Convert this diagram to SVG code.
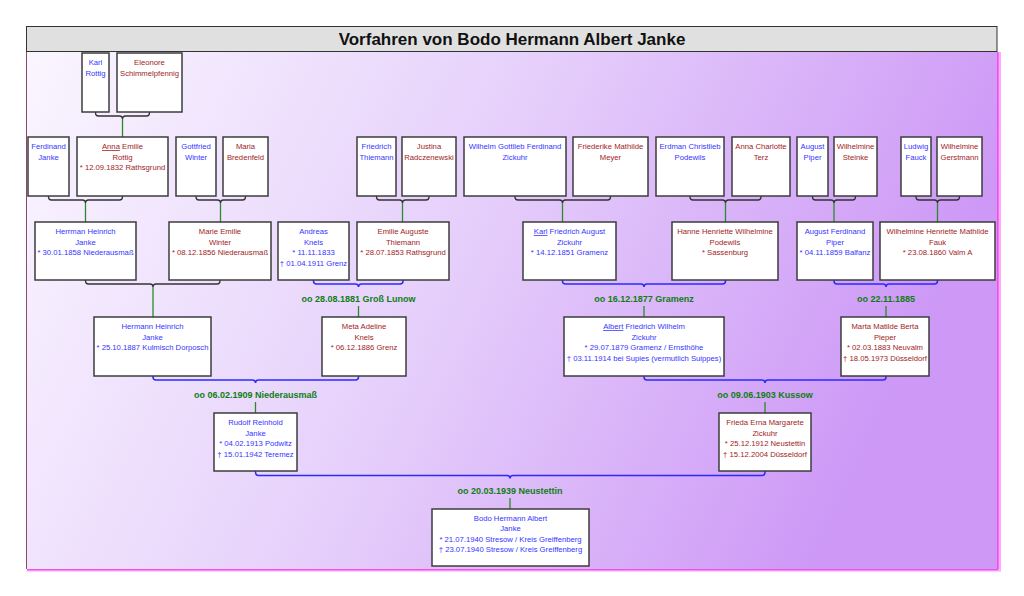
<svg xmlns="http://www.w3.org/2000/svg" width="1024" height="596" viewBox="0 0 1024 596">
<defs>
<linearGradient id="bg" x1="0" y1="0" x2="1" y2="0.25">
<stop offset="0" stop-color="#faf6ff"/>
<stop offset="0.5" stop-color="#e6d0fb"/>
<stop offset="1" stop-color="#cd98f6"/>
</linearGradient>
<style>
.box{fill:#ffffff;stroke:#3c3c3c;stroke-width:1.5}
text{font-family:"Liberation Sans",Arial,sans-serif;font-size:7.7px;text-anchor:middle}
.m{fill:#3535ff}
.f{fill:#a01c24}
.br{fill:none;stroke:#333333;stroke-width:1.3}
.bb{fill:none;stroke:#2a2aff;stroke-width:1.5}
.gl{fill:none;stroke:#2a8a2a;stroke-width:1.3}
.mt{fill:#0f7d14;font-weight:bold;font-size:9px}
.u{text-decoration:underline}
</style>
</defs>
<g id="frame">
<rect x="26" y="51" width="971" height="518" fill="url(#bg)"/>
<line x1="26.5" y1="51" x2="26.5" y2="569" stroke="#8a4a6a" stroke-width="1"/>
<rect x="997" y="52" width="4" height="519" fill="#ffa8ff"/>
<rect x="997" y="52" width="1.6" height="518" fill="#f050e8"/>
<rect x="27" y="569" width="974" height="2.5" fill="#ffa8ff"/>
<rect x="27" y="569" width="971" height="1.3" fill="#f050e8"/>
</g>
<g id="title">
<rect x="26.5" y="26.5" width="970.5" height="25" fill="#e0e0e0" stroke="#333" stroke-width="1"/>
<text x="512" y="45" style="font-size:17px;font-weight:bold;fill:#111">Vorfahren von Bodo Hermann Albert Janke</text>
</g>
<g id="connectors">
<path class="br" d="M95.5,112 V113 Q95.5,116 98.5,116 H119.5 Q122.5,116 122.5,119 Q122.5,116 125.5,116 H146.5 Q149.5,116 149.5,113 V112"/>
<path class="gl" d="M122.5,119 V137"/>
<path class="br" d="M48.5,196 V197 Q48.5,200 51.5,200 H82.5 Q85.5,200 85.5,203 Q85.5,200 88.5,200 H119.5 Q122.5,200 122.5,197 V196"/>
<path class="gl" d="M85.5,203 V222"/>
<path class="br" d="M196,196 V197 Q196,200 199,200 H217.5 Q220.5,200 220.5,203 Q220.5,200 223.5,200 H242.5 Q245.5,200 245.5,197 V196"/>
<path class="gl" d="M220.5,203 V222"/>
<path class="br" d="M376.5,196 V197 Q376.5,200 379.5,200 H399.5 Q402.5,200 402.5,203 Q402.5,200 405.5,200 H426 Q429,200 429,197 V196"/>
<path class="gl" d="M402.5,203 V222"/>
<path class="br" d="M515,196 V197 Q515,200 518,200 H559.5 Q562.5,200 562.5,203 Q562.5,200 565.5,200 H607.5 Q610.5,200 610.5,197 V196"/>
<path class="gl" d="M562.5,203 V222"/>
<path class="br" d="M690,196 V197 Q690,200 693,200 H722.5 Q725.5,200 725.5,203 Q725.5,200 728.5,200 H758 Q761,200 761,197 V196"/>
<path class="gl" d="M725.5,203 V222"/>
<path class="br" d="M812.5,196 V197 Q812.5,200 815.5,200 H831 Q834,200 834,203 Q834,200 837,200 H852.5 Q855.5,200 855.5,197 V196"/>
<path class="gl" d="M834,203 V222"/>
<path class="br" d="M916,196 V197 Q916,200 919,200 H934.5 Q937.5,200 937.5,203 Q937.5,200 940.5,200 H956.5 Q959.5,200 959.5,197 V196"/>
<path class="gl" d="M937.5,203 V222"/>
<path class="br" d="M85.5,280 V281 Q85.5,284 88.5,284 H150 Q153,284 153,287 Q153,284 156,284 H217 Q220,284 220,281 V280"/>
<path class="gl" d="M153,287 V317"/>
<path class="bb" d="M313.5,280 V281 Q313.5,284 316.5,284 H355.5 Q358.5,284 358.5,287 Q358.5,284 361.5,284 H400 Q403,284 403,281 V280"/>
<text class="mt" x="358.5" y="302">oo 28.08.1881 Groß Lunow</text>
<path class="gl" d="M358.5,306 V317"/>
<path class="bb" d="M562.5,280 V281 Q562.5,284 565.5,284 H641 Q644,284 644,287 Q644,284 647,284 H722.5 Q725.5,284 725.5,281 V280"/>
<text class="mt" x="644" y="302">oo 16.12.1877 Gramenz</text>
<path class="gl" d="M644,306 V317"/>
<path class="bb" d="M834,280 V281 Q834,284 837,284 H883 Q886,284 886,287 Q886,284 889,284 H934.5 Q937.5,284 937.5,281 V280"/>
<text class="mt" x="886" y="302">oo 22.11.1885</text>
<path class="gl" d="M886,306 V317"/>
<path class="bb" d="M153,376 V377 Q153,380 156,380 H252.5 Q255.5,380 255.5,383 Q255.5,380 258.5,380 H355.5 Q358.5,380 358.5,377 V376"/>
<text class="mt" x="255.5" y="398">oo 06.02.1909 Niederausmaß</text>
<path class="gl" d="M255.5,402 V413"/>
<path class="bb" d="M644,376 V377 Q644,380 647,380 H762 Q765,380 765,383 Q765,380 768,380 H883 Q886,380 886,377 V376"/>
<text class="mt" x="765" y="398">oo 09.06.1903 Kussow</text>
<path class="gl" d="M765,402 V413"/>
<path class="bb" d="M255.5,471 V472 Q255.5,475.5 258.5,475.5 H507 Q510,475.5 510,478.5 Q510,475.5 513,475.5 H762 Q765,475.5 765,472 V471"/>
<text class="mt" x="510" y="494">oo 20.03.1939 Neustettin</text>
<path class="gl" d="M510,498 V509"/>
</g>
<g id="n-karl-rottig"><rect class="box" x="82" y="53" width="27" height="59"/><text class="m"><tspan x="95.5" y="65">Karl</tspan><tspan x="95.5" y="75.5">Rottig</tspan></text></g>
<g id="n-eleonore"><rect class="box" x="117" y="53" width="65" height="59"/><text class="f"><tspan x="149.5" y="65">Eleonore</tspan><tspan x="149.5" y="75.5">Schimmelpfennig</tspan></text></g>
<g id="n-ferdinand"><rect class="box" x="28" y="137" width="41" height="59"/><text class="m"><tspan x="48.5" y="149">Ferdinand</tspan><tspan x="48.5" y="159.5">Janke</tspan></text></g>
<g id="n-anna-emilie"><rect class="box" x="77" y="137" width="91" height="59"/><text class="f"><tspan x="122.5" y="149"><tspan class="u">Anna</tspan> Emilie</tspan><tspan x="122.5" y="159.5">Rottig</tspan><tspan x="122.5" y="170">* 12.09.1832 Rathsgrund</tspan></text></g>
<g id="n-gottfried"><rect class="box" x="176" y="137" width="40" height="59"/><text class="m"><tspan x="196" y="149">Gottfried</tspan><tspan x="196" y="159.5">Winter</tspan></text></g>
<g id="n-maria"><rect class="box" x="223" y="137" width="45" height="59"/><text class="f"><tspan x="245.5" y="149">Maria</tspan><tspan x="245.5" y="159.5">Bredenfeld</tspan></text></g>
<g id="n-friedrich"><rect class="box" x="357" y="137" width="39" height="59"/><text class="m"><tspan x="376.5" y="149">Friedrich</tspan><tspan x="376.5" y="159.5">Thiemann</tspan></text></g>
<g id="n-justina"><rect class="box" x="402" y="137" width="54" height="59"/><text class="f"><tspan x="429" y="149">Justina</tspan><tspan x="429" y="159.5">Radczenewski</tspan></text></g>
<g id="n-wilhelm"><rect class="box" x="464" y="137" width="102" height="59"/><text class="m"><tspan x="515" y="149">Wilhelm Gottlieb Ferdinand</tspan><tspan x="515" y="159.5">Zickuhr</tspan></text></g>
<g id="n-friederike"><rect class="box" x="573" y="137" width="75" height="59"/><text class="f"><tspan x="610.5" y="149">Friederike Mathilde</tspan><tspan x="610.5" y="159.5">Meyer</tspan></text></g>
<g id="n-erdman"><rect class="box" x="656" y="137" width="68" height="59"/><text class="m"><tspan x="690" y="149">Erdman Christlieb</tspan><tspan x="690" y="159.5">Podewils</tspan></text></g>
<g id="n-anna-charlotte"><rect class="box" x="732" y="137" width="58" height="59"/><text class="f"><tspan x="761" y="149">Anna Charlotte</tspan><tspan x="761" y="159.5">Terz</tspan></text></g>
<g id="n-august"><rect class="box" x="797" y="137" width="31" height="59"/><text class="m"><tspan x="812.5" y="149">August</tspan><tspan x="812.5" y="159.5">Piper</tspan></text></g>
<g id="n-wilhelmine-steinke"><rect class="box" x="834" y="137" width="43" height="59"/><text class="f"><tspan x="855.5" y="149">Wilhelmine</tspan><tspan x="855.5" y="159.5">Steinke</tspan></text></g>
<g id="n-ludwig"><rect class="box" x="901" y="137" width="30" height="59"/><text class="m"><tspan x="916" y="149">Ludwig</tspan><tspan x="916" y="159.5">Fauck</tspan></text></g>
<g id="n-wilhelmine-gerstmann"><rect class="box" x="937" y="137" width="45" height="59"/><text class="f"><tspan x="959.5" y="149">Wilhelmine</tspan><tspan x="959.5" y="159.5">Gerstmann</tspan></text></g>
<g id="n-herrman"><rect class="box" x="35" y="222" width="101" height="58"/><text class="m"><tspan x="85.5" y="234">Herrman Heinrich</tspan><tspan x="85.5" y="244.5">Janke</tspan><tspan x="85.5" y="255">* 30.01.1858 Niederausmaß</tspan></text></g>
<g id="n-marie"><rect class="box" x="169" y="222" width="102" height="58"/><text class="f"><tspan x="220" y="234">Marie Emilie</tspan><tspan x="220" y="244.5">Winter</tspan><tspan x="220" y="255">* 08.12.1856 Niederausmaß</tspan></text></g>
<g id="n-andreas"><rect class="box" x="278" y="222" width="71" height="58"/><text class="m"><tspan x="313.5" y="234">Andreas</tspan><tspan x="313.5" y="244.5">Knels</tspan><tspan x="313.5" y="255">* 11.11.1833</tspan><tspan x="313.5" y="265.5">† 01.04.1911 Grenz</tspan></text></g>
<g id="n-emilie"><rect class="box" x="357" y="222" width="92" height="58"/><text class="f"><tspan x="403" y="234">Emilie Auguste</tspan><tspan x="403" y="244.5">Thiemann</tspan><tspan x="403" y="255">* 28.07.1853 Rathsgrund</tspan></text></g>
<g id="n-karl-friedrich"><rect class="box" x="523" y="222" width="93" height="58"/><text class="m"><tspan x="569.5" y="234"><tspan class="u">Karl</tspan> Friedrich August</tspan><tspan x="569.5" y="244.5">Zickuhr</tspan><tspan x="569.5" y="255">* 14.12.1851 Gramenz</tspan></text></g>
<g id="n-hanne"><rect class="box" x="672" y="222" width="106" height="58"/><text class="f"><tspan x="725" y="234">Hanne Henriette Wilhelmine</tspan><tspan x="725" y="244.5">Podewils</tspan><tspan x="725" y="255">* Sassenburg</tspan></text></g>
<g id="n-august-ferdinand"><rect class="box" x="797" y="222" width="76" height="58"/><text class="m"><tspan x="835" y="234">August Ferdinand</tspan><tspan x="835" y="244.5">Piper</tspan><tspan x="835" y="255">* 04.11.1859 Balfanz</tspan></text></g>
<g id="n-wilhelmine-henriette"><rect class="box" x="880" y="222" width="115" height="58"/><text class="f"><tspan x="937.5" y="234">Wilhelmine Henriette Mathilde</tspan><tspan x="937.5" y="244.5">Fauk</tspan><tspan x="937.5" y="255">* 23.08.1860 Valm A</tspan></text></g>
<g id="n-hermann"><rect class="box" x="94" y="317" width="117" height="59"/><text class="m"><tspan x="152.5" y="329">Hermann Heinrich</tspan><tspan x="152.5" y="339.5">Janke</tspan><tspan x="152.5" y="350">* 25.10.1887 Kulmisch Dorposch</tspan></text></g>
<g id="n-meta"><rect class="box" x="322" y="317" width="84" height="59"/><text class="f"><tspan x="364" y="329">Meta Adeline</tspan><tspan x="364" y="339.5">Knels</tspan><tspan x="364" y="350">* 06.12.1886 Grenz</tspan></text></g>
<g id="n-albert"><rect class="box" x="564" y="317" width="160" height="59"/><text class="m"><tspan x="644" y="329"><tspan class="u">Albert</tspan> Friedrich Wilhelm</tspan><tspan x="644" y="339.5">Zickuhr</tspan><tspan x="644" y="350">* 29.07.1879 Gramenz / Ernsthöhe</tspan><tspan x="644" y="360.5">† 03.11.1914 bei Supies (vermutlich Suippes)</tspan></text></g>
<g id="n-marta"><rect class="box" x="841" y="317" width="88" height="59"/><text class="f"><tspan x="885" y="329">Marta Matilde Berta</tspan><tspan x="885" y="339.5">Pieper</tspan><tspan x="885" y="350">* 02.03.1883 Neuvalm</tspan><tspan x="885" y="360.5">† 18.05.1973 Düsseldorf</tspan></text></g>
<g id="n-rudolf"><rect class="box" x="214" y="413" width="83" height="58"/><text class="m"><tspan x="255.5" y="425">Rudolf Reinhold</tspan><tspan x="255.5" y="435.5">Janke</tspan><tspan x="255.5" y="446">* 04.02.1913 Podwitz</tspan><tspan x="255.5" y="456.5">† 15.01.1942 Teremez</tspan></text></g>
<g id="n-frieda"><rect class="box" x="719" y="413" width="92" height="58"/><text class="f"><tspan x="765" y="425">Frieda Erna Margarete</tspan><tspan x="765" y="435.5">Zickuhr</tspan><tspan x="765" y="446">* 25.12.1912 Neustettin</tspan><tspan x="765" y="456.5">† 15.12.2004 Düsseldorf</tspan></text></g>
<g id="n-bodo"><rect class="box" x="432" y="509" width="157" height="57"/><text class="m"><tspan x="510.5" y="520.5">Bodo Hermann Albert</tspan><tspan x="510.5" y="531">Janke</tspan><tspan x="510.5" y="541.5">* 21.07.1940 Stresow / Kreis Greiffenberg</tspan><tspan x="510.5" y="552">† 23.07.1940 Stresow / Kreis Greiffenberg</tspan></text></g>
</svg>
